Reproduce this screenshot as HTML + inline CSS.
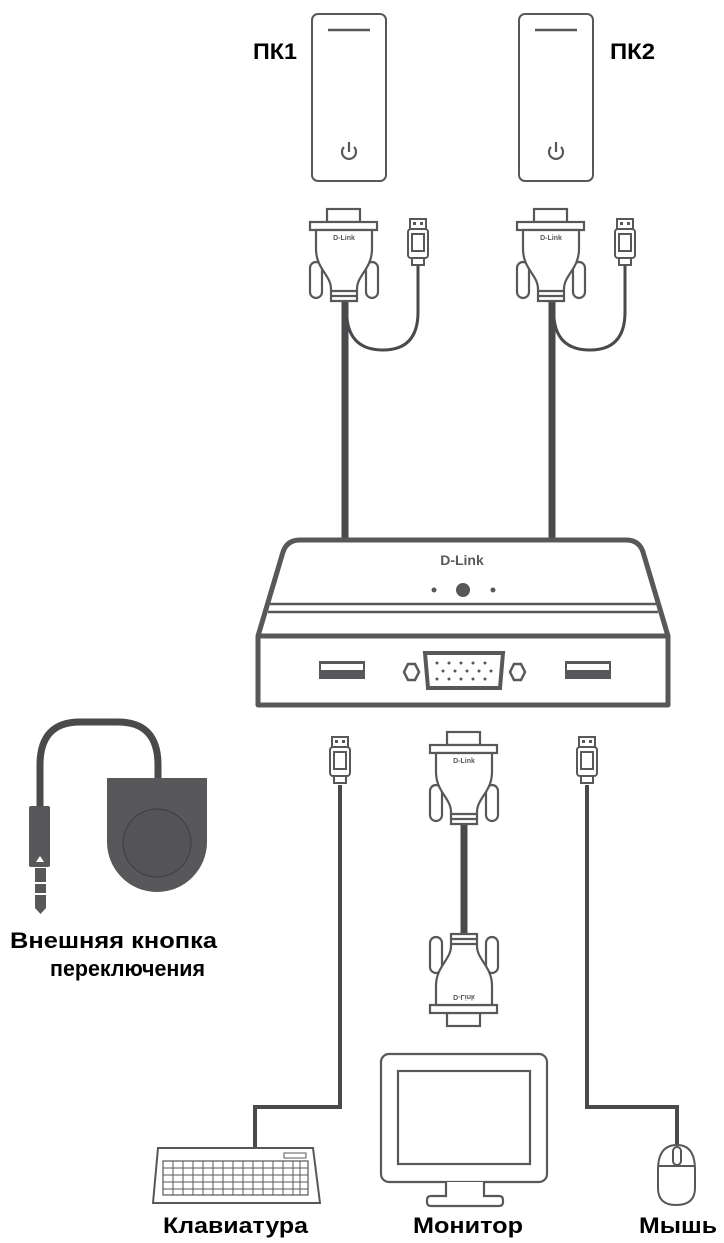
<!DOCTYPE html>
<html><head><meta charset="utf-8"><style>
html,body{margin:0;padding:0;background:#fff}
svg{display:block}
text{font-family:"Liberation Sans","DejaVu Sans",sans-serif;font-weight:bold;fill:#000}
</style></head><body>
<svg width="724" height="1243" viewBox="0 0 724 1243" xmlns="http://www.w3.org/2000/svg">
<defs>
<g id="vga" fill="#fff" stroke="#58585a" stroke-width="2.2">
  <rect x="-17" y="0" width="33" height="13"/>
  <rect x="-34" y="13" width="67" height="8"/>
  <rect x="-34" y="53" width="12" height="36" rx="6"/>
  <rect x="22" y="53" width="12" height="36" rx="6"/>
  <path d="M-28,21 V40 C-28,60 -13,66 -13,80 V92 H13 V80 C13,66 28,60 28,40 V21 Z"/>
  <line x1="-13" y1="82" x2="13" y2="82"/>
  <line x1="-13" y1="87" x2="13" y2="87"/>
  <text x="0" y="31" font-size="7" text-anchor="middle" stroke="none" style="fill:#58585a" font-family="Liberation Serif">D-Link</text>
</g>
<g id="usb" fill="#fff" stroke="#58585a" stroke-width="2">
  <rect x="-8" y="0" width="16" height="10"/>
  <rect x="-5" y="3" width="3" height="3" fill="#58585a" stroke="none"/>
  <rect x="2" y="3" width="3" height="3" fill="#58585a" stroke="none"/>
  <rect x="-10" y="10" width="20" height="29" rx="3"/>
  <rect x="-6" y="15" width="12" height="17"/>
  <rect x="-6" y="39" width="12" height="7"/>
</g>
<g id="pc" fill="#fff" stroke="#58585a" stroke-width="2">
  <rect x="0" y="0" width="74" height="167" rx="6"/>
  <line x1="16" y1="16" x2="58" y2="16" stroke-width="2.5"/>
  <path d="M32,133 A7,7 0 1 0 42,133" fill="none" stroke-width="2.2"/>
  <line x1="37" y1="128" x2="37" y2="138" stroke-width="2.2"/>
</g>
</defs>

<text x="253" y="59" font-size="22" textLength="44" lengthAdjust="spacingAndGlyphs">ПК1</text>
<text x="610" y="59" font-size="22" textLength="45" lengthAdjust="spacingAndGlyphs">ПК2</text>

<use href="#pc" x="312" y="14"/>
<use href="#pc" x="519" y="14"/>

<line x1="345" y1="300" x2="345" y2="542" stroke="#4a4a4c" stroke-width="7"/>
<path d="M418,262 V312 Q418,350 383,350 Q350,350 347,318" fill="none" stroke="#4a4a4c" stroke-width="3"/>
<use href="#vga" x="344" y="209"/>
<use href="#usb" x="418" y="219"/>
<line x1="552" y1="300" x2="552" y2="542" stroke="#4a4a4c" stroke-width="7"/>
<path d="M625,262 V312 Q625,350 590,350 Q557,350 554,318" fill="none" stroke="#4a4a4c" stroke-width="3"/>
<use href="#vga" x="551" y="209"/>
<use href="#usb" x="625" y="219"/>

<g stroke="#58585a" fill="#fff">
  <path d="M258,636 L283,552 Q287,540 300,540 H626 Q639,540 643,552 L668,636 V705 H258 Z" stroke-width="5" stroke-linejoin="round"/>
  <line x1="258" y1="636" x2="668" y2="636" stroke-width="5"/>
  <line x1="270" y1="604" x2="656" y2="604" stroke-width="2.5"/>
  <line x1="268" y1="612" x2="658" y2="612" stroke-width="2.5"/>
</g>
<text x="462" y="565" font-size="14" text-anchor="middle" style="fill:#58585a" font-family="Liberation Serif">D-Link</text>
<circle cx="434" cy="590" r="2.5" fill="#58585a"/>
<circle cx="463" cy="590" r="7" fill="#58585a"/>
<circle cx="493" cy="590" r="2.5" fill="#58585a"/>
<rect x="319" y="661" width="46" height="18" fill="#58585a"/>
<rect x="321" y="664" width="42" height="6" fill="#fff"/>
<rect x="565" y="661" width="46" height="18" fill="#58585a"/>
<rect x="567" y="664" width="42" height="6" fill="#fff"/>
<path d="M425,653 H503 L500,688 H428 Z" fill="#fff" stroke="#58585a" stroke-width="4"/>
<g fill="#58585a">
  <circle cx="437" cy="663" r="1.5"/><circle cx="449" cy="663" r="1.5"/><circle cx="461" cy="663" r="1.5"/><circle cx="473" cy="663" r="1.5"/><circle cx="485" cy="663" r="1.5"/>
  <circle cx="443" cy="671" r="1.5"/><circle cx="455" cy="671" r="1.5"/><circle cx="467" cy="671" r="1.5"/><circle cx="479" cy="671" r="1.5"/><circle cx="491" cy="671" r="1.5"/>
  <circle cx="437" cy="679" r="1.5"/><circle cx="449" cy="679" r="1.5"/><circle cx="461" cy="679" r="1.5"/><circle cx="473" cy="679" r="1.5"/><circle cx="485" cy="679" r="1.5"/>
</g>
<polygon points="404,672 408,664 415,664 419,672 415,680 408,680" fill="#fff" stroke="#58585a" stroke-width="2.5"/>
<polygon points="510,672 514,664 521,664 525,672 521,680 514,680" fill="#fff" stroke="#58585a" stroke-width="2.5"/>

<path d="M340,785 V1107 H255 V1150" fill="none" stroke="#4a4a4c" stroke-width="4"/>
<use href="#usb" x="340" y="737"/>
<path d="M587,785 V1107 H677 V1148" fill="none" stroke="#4a4a4c" stroke-width="4"/>
<use href="#usb" x="587" y="737"/>

<line x1="464" y1="820" x2="464" y2="945" stroke="#4a4a4c" stroke-width="7"/>
<use href="#vga" x="464" y="732"/>
<g transform="translate(464,1026) scale(1,-1)"><use href="#vga"/></g>

<path d="M40,810 V765 Q40,722 80,722 H118 Q158,722 158,765 V780" fill="none" stroke="#4a4a4c" stroke-width="7"/>
<path d="M107,778 H207 V842 A50,50 0 0 1 107,842 Z" fill="#58585a"/>
<circle cx="157" cy="843" r="34" fill="#545456" stroke="#3d3d3f" stroke-width="1"/>
<rect x="29" y="806" width="21" height="61" rx="2" fill="#58585a"/>
<polygon points="36,862 40,856 44,862" fill="#fff"/>
<rect x="35" y="868" width="11" height="40" fill="#58585a"/>
<rect x="35" y="882" width="11" height="2" fill="#fff"/>
<rect x="35" y="893" width="11" height="2" fill="#fff"/>
<polygon points="35,908 46,908 40.5,914" fill="#58585a"/>
<text x="10" y="948" font-size="22" textLength="207" lengthAdjust="spacingAndGlyphs">Внешняя кнопка</text>
<text x="50" y="976" font-size="22" textLength="155" lengthAdjust="spacingAndGlyphs">переключения</text>

<g stroke="#58585a" fill="#fff" stroke-width="2">
  <path d="M158,1148 H313 L320,1203 H153 Z"/>
  <rect x="163" y="1161" width="145" height="34" fill="none" stroke-width="1.2"/>
  <rect x="284" y="1153" width="22" height="5" stroke-width="1"/>
</g>
<g stroke="#58585a" stroke-width="1">
  <line x1="163" y1="1168" x2="308" y2="1168"/><line x1="163" y1="1175" x2="308" y2="1175"/><line x1="163" y1="1182" x2="308" y2="1182"/><line x1="163" y1="1189" x2="308" y2="1189"/>
  <line x1="173" y1="1161" x2="173" y2="1195"/><line x1="183" y1="1161" x2="183" y2="1195"/><line x1="193" y1="1161" x2="193" y2="1195"/><line x1="203" y1="1161" x2="203" y2="1195"/><line x1="213" y1="1161" x2="213" y2="1195"/><line x1="223" y1="1161" x2="223" y2="1195"/><line x1="233" y1="1161" x2="233" y2="1195"/><line x1="243" y1="1161" x2="243" y2="1195"/><line x1="253" y1="1161" x2="253" y2="1195"/><line x1="263" y1="1161" x2="263" y2="1195"/><line x1="273" y1="1161" x2="273" y2="1195"/><line x1="283" y1="1161" x2="283" y2="1195"/><line x1="293" y1="1161" x2="293" y2="1195"/><line x1="300" y1="1161" x2="300" y2="1195"/>
</g>

<g stroke="#58585a" fill="#fff" stroke-width="2.2">
  <rect x="381" y="1054" width="166" height="128" rx="8"/>
  <rect x="398" y="1071" width="132" height="93"/>
  <path d="M446,1182 V1196 H431 Q427,1196 427,1200 V1202 Q427,1206 431,1206 H499 Q503,1206 503,1202 V1200 Q503,1196 499,1196 H484 V1182"/>
</g>

<g stroke="#58585a" fill="#fff" stroke-width="2">
  <path d="M677,1145 Q695,1145 695,1170 V1188 Q695,1205 676,1205 Q658,1205 658,1188 V1170 Q658,1145 677,1145 Z"/>
  <line x1="658" y1="1166" x2="695" y2="1166"/>
  <rect x="673" y="1147" width="8" height="18" rx="4"/>
</g>

<text x="163" y="1233" font-size="22" textLength="145" lengthAdjust="spacingAndGlyphs">Клавиатура</text>
<text x="413" y="1233" font-size="22" textLength="110" lengthAdjust="spacingAndGlyphs">Монитор</text>
<text x="639" y="1233" font-size="22" textLength="78" lengthAdjust="spacingAndGlyphs">Мышь</text>
</svg>
</body></html>
